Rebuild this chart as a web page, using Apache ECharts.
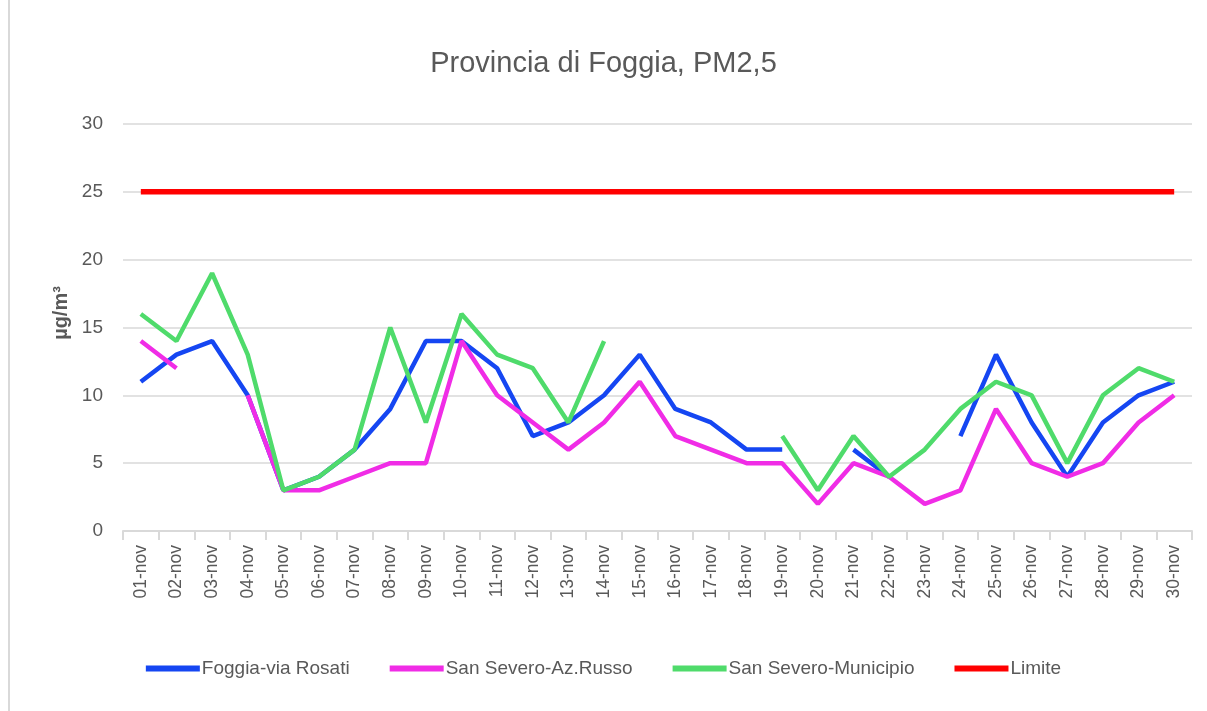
<!DOCTYPE html>
<html>
<head>
<meta charset="utf-8">
<script src="https://cdn.jsdelivr.net/npm/echarts@6/dist/echarts.min.js"></script>
<style>
html,body{margin:0;padding:0;background:#fff;}
#c{width:1207px;height:711px;}
</style>
</head>
<body>
<div id="c"></div>
<script>
const categories = ['01-nov','02-nov','03-nov','04-nov','05-nov','06-nov','07-nov','08-nov','09-nov','10-nov','11-nov','12-nov','13-nov','14-nov','15-nov','16-nov','17-nov','18-nov','19-nov','20-nov','21-nov','22-nov','23-nov','24-nov','25-nov','26-nov','27-nov','28-nov','29-nov','30-nov'];
const foggia = [11,13,14,10,3,4,6,9,14,14,12,7,8,10,13,9,8,6,6,null,6,4,null,7,13,8,4,8,10,11];
const azRusso = [14,12,null,10,3,3,4,5,5,14,10,8,6,8,11,7,6,5,5,2,5,4,2,3,9,5,4,5,8,10];
const municipio = [16,14,19,13,3,4,6,15,8,16,13,12,8,14,null,null,null,null,7,3,7,4,6,9,11,10,5,10,12,11];
const limite = [25,25,25,25,25,25,25,25,25,25,25,25,25,25,25,25,25,25,25,25,25,25,25,25,25,25,25,25,25,25];
const yTicks = {min:0, max:30, interval:5};

const FONT = '"Liberation Sans",sans-serif';
const chart = echarts.init(document.getElementById('c'));
function line(name, data, color, width){
  return {name, type:'line', data, symbol:'none', connectNulls:false,
    lineStyle:{color, width}, itemStyle:{color}};
}
chart.setOption({
  animation:false,
  textStyle:{fontFamily:FONT},
  title:{text:'Provincia di Foggia, PM2,5', left:'center', top:44,
    textStyle:{fontFamily:FONT, fontSize:29, fontWeight:'normal', color:'#595959'}},
  grid:{left:123, right:15, top:124, bottom:180},
  legend:{bottom:28, left:'center', itemWidth:54, itemHeight:6, itemGap:40, icon:'rect',
    textStyle:{fontFamily:FONT, fontSize:19, color:'#595959', padding:[0,0,0,-3]},
    data:['Foggia-via Rosati','San Severo-Az.Russo','San Severo-Municipio','Limite']},
  xAxis:{type:'category', data:categories, boundaryGap:true,
    axisLine:{lineStyle:{color:'#d9d9d9', width:2}},
    axisTick:{show:true, length:9, lineStyle:{color:'#d9d9d9', width:2}},
    axisLabel:{rotate:90, color:'#595959', fontSize:17.5, fontFamily:FONT, margin:14}},
  yAxis:{type:'value', min:yTicks.min, max:yTicks.max, interval:yTicks.interval,
    axisLine:{show:false}, axisTick:{show:false},
    splitLine:{lineStyle:{color:'#d9d9d9', width:1.5}},
    axisLabel:{color:'#595959', fontSize:19, fontFamily:FONT, margin:20}},
  graphic:[
    {type:'line', shape:{x1:9, y1:0, x2:9, y2:711}, style:{stroke:'#d9d9d9', lineWidth:2}},
    {type:'text', x:61, y:313, rotation:Math.PI/2,
      style:{text:'µg/m³', fill:'#595959', font:'bold 20px "Liberation Sans", sans-serif',
        align:'center', verticalAlign:'middle'}}
  ],
  series:[
    line('Foggia-via Rosati', foggia, '#1546f2', 4.5),
    line('San Severo-Az.Russo', azRusso, '#f02ce6', 4.5),
    line('San Severo-Municipio', municipio, '#4fdb6b', 4.5),
    line('Limite', limite, '#ff0000', 5.5)
  ]
});
</script>
</body>
</html>
